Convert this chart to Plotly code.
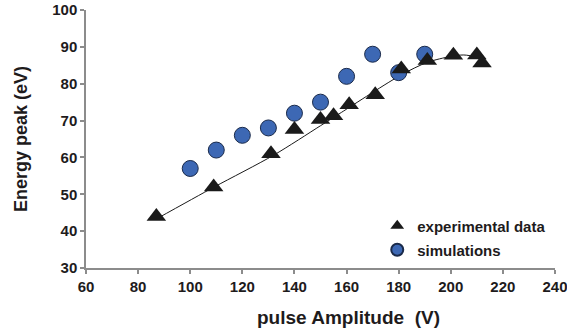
import plotly.graph_objects as go

# experimental data
exp_x = [87, 109, 131, 140, 150, 155, 161, 171, 181, 191, 201, 210, 212]
exp_y = [44, 52, 61, 67.6, 70.3, 71.3, 74.3, 77, 84, 86.3, 87.7, 87.8, 85.6]
# simulations
sim_x = [100, 110, 120, 130, 140, 150, 160, 170, 180, 190]
sim_y = [57, 62, 66, 68, 72, 75, 82, 88, 83, 88]
trend_x = [87, 109, 132, 150, 158, 181, 191, 200, 205, 212]
trend_y = [43.3, 51.9, 60.6, 68.6, 72.2, 82.4, 85.8, 87.4, 87.8, 87.0]

x_ticks = [60, 80, 100, 120, 140, 160, 180, 200, 220, 240]
y_ticks = [30, 40, 50, 60, 70, 80, 90, 100]

fig = go.Figure()
fig.add_trace(go.Scatter(x=trend_x, y=trend_y, mode="lines",
                         line=dict(color="#1a1a1a", width=1, shape="spline", smoothing=0.8),
                         showlegend=False, hoverinfo="skip"))
fig.add_trace(go.Scatter(x=sim_x, y=sim_y, mode="markers", name="simulations",
                         marker=dict(symbol="circle", size=16, color="#3d68b4",
                                     line=dict(color="#1a2a4a", width=1)),
                         legend="legend2"))
fig.add_trace(go.Scatter(x=exp_x, y=exp_y, mode="markers", name="experimental data",
                         marker=dict(symbol="triangle-up", size=17, color="#1a1a1a",
                                     line=dict(color="#1a1a1a", width=0)),
                         legend="legend"))

font_family = "Liberation Sans, Arial, sans-serif"
text_color = "#1e1b1c"
tick_font = dict(family=font_family, size=15, color=text_color, weight=700)
axis_common = dict(showline=True, linecolor="#8c8c8c", linewidth=1.5, ticks="outside",
                   tickcolor="#8c8c8c", ticklen=4, tickwidth=1.5, showgrid=False, zeroline=False,
                   automargin=False, tickfont=tick_font)

legend_common = dict(xanchor="left", yanchor="middle", bgcolor="rgba(0,0,0,0)",
                     font=dict(family=font_family, size=15, color=text_color, weight="bold"),
                     itemsizing="constant", itemwidth=30)

fig.update_layout(
    width=567, height=330,
    margin=dict(l=86, r=12, t=10, b=62),
    plot_bgcolor="white", paper_bgcolor="white",
    font=dict(family=font_family, color=text_color),
    xaxis=dict(range=[60, 240], tickvals=x_ticks, ticklabeloverflow="allow", **axis_common),
    yaxis=dict(range=[30, 100], tickvals=y_ticks,
               title=dict(text="Energy peak (eV)",
                          font=dict(size=18, weight="bold", family=font_family, color=text_color),
                          standoff=20),
               **axis_common),
    legend=dict(x=0.621, y=0.163, **legend_common),
    legend2=dict(x=0.621, y=0.07, **legend_common),
    annotations=[dict(text="pulse Amplitude  (V)", xref="paper", yref="paper",
                      x=0.559, y=-0.19, xanchor="center", yanchor="middle", showarrow=False,
                      font=dict(size=19, weight="bold", family=font_family, color=text_color))],
)

fig.write_html("out.html", config={"displayModeBar": False},
               post_script="document.body.style.margin='0';document.body.style.overflow='hidden';")
